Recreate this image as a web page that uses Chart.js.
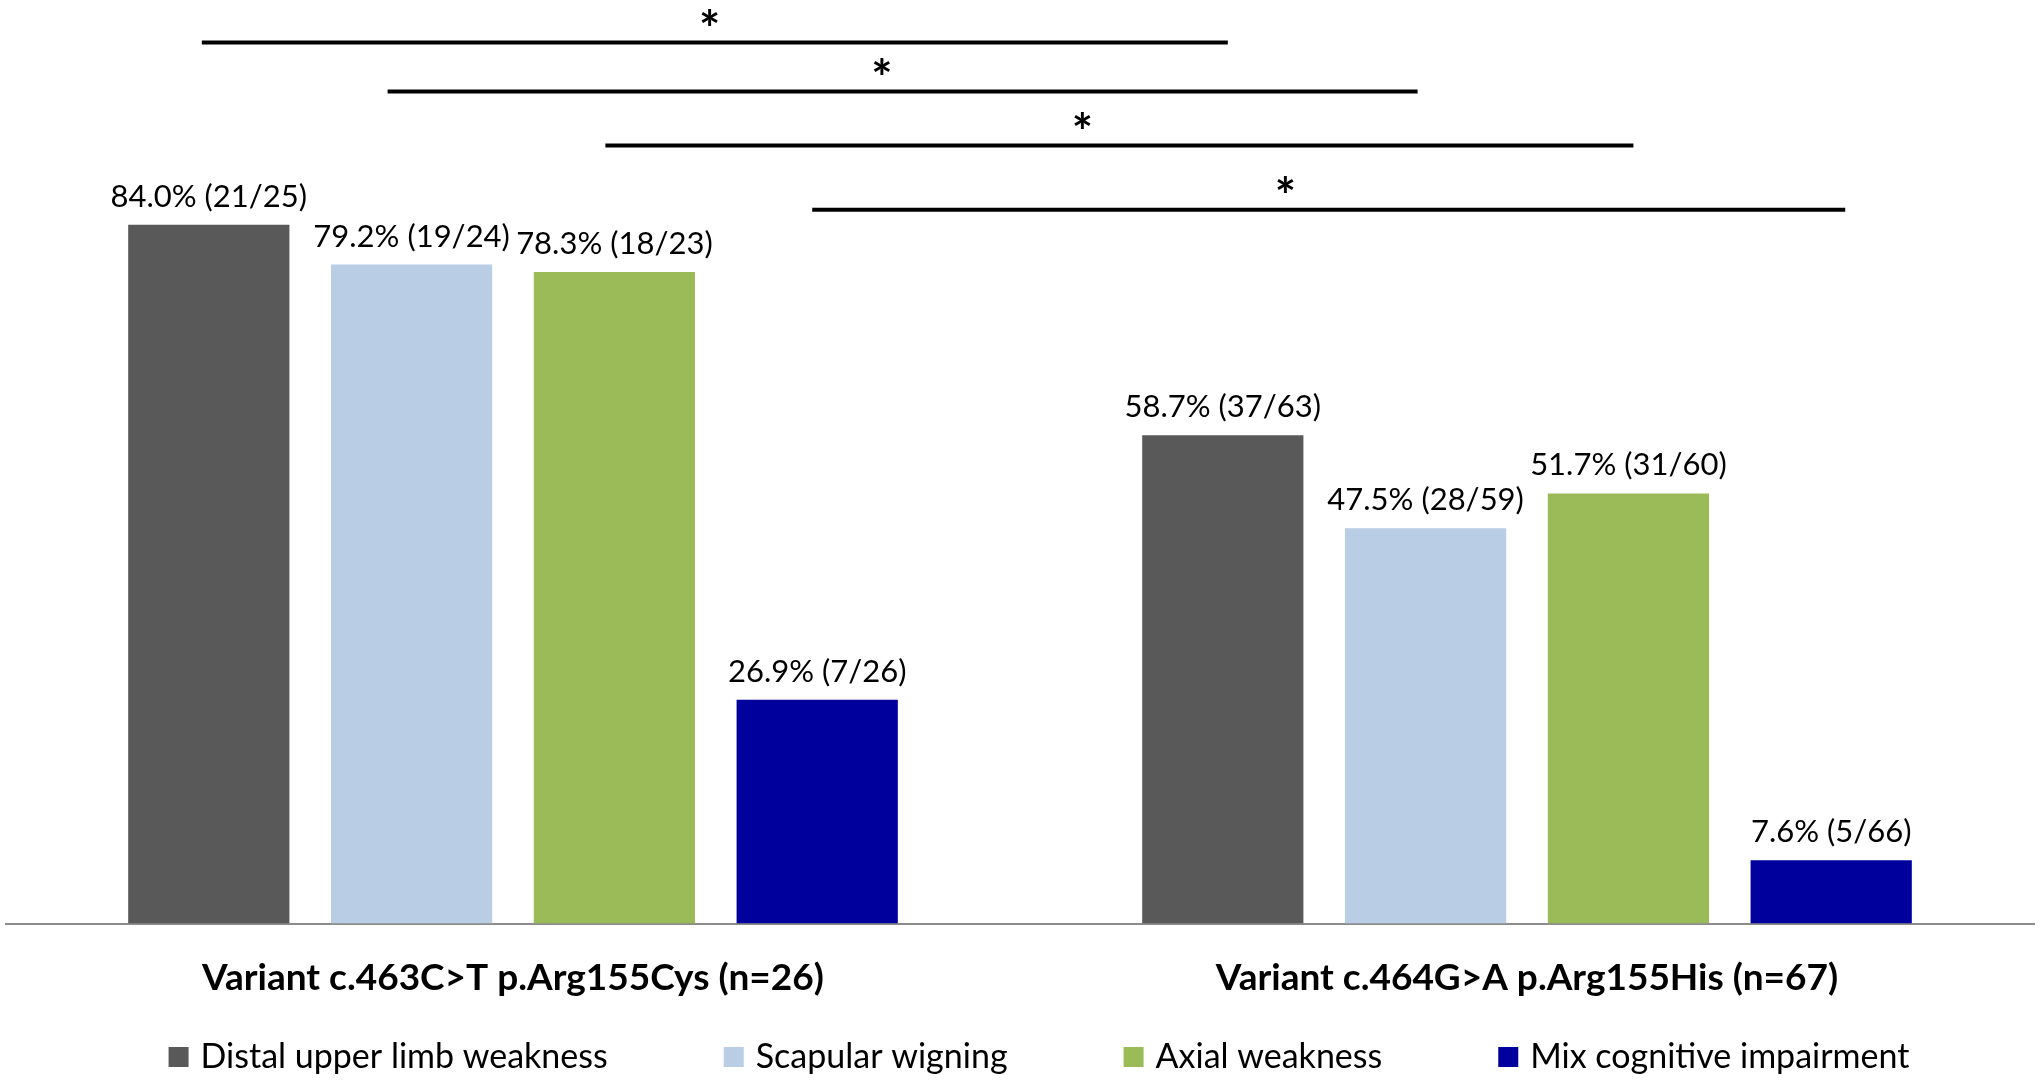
<!DOCTYPE html>
<html>
<head>
<meta charset="utf-8">
<script src="https://cdn.jsdelivr.net/npm/chart.js@4.4.0/dist/chart.umd.min.js"></script>
<style>
    body { margin: 0; background: #fff; }
    #wrap { width: 2040px; height: 1082px; }
</style>
</head>
<body>
<div id="wrap"><canvas id="grafico"></canvas></div>
<script>
var categorias = ["Variant c.463C>T p.Arg155Cys (n=26)", "Variant c.464G>A p.Arg155His (n=67)"];
var nomesSeries = ["Distal upper limb weakness", "Scapular wigning", "Axial weakness", "Mix cognitive impairment"];

var distal = [84.0, 58.7];
var escapular = [79.2, 47.5];
var axial = [78.3, 51.7];
var cognitivo = [26.9, 7.6];

var fracDistal = ["21/25", "37/63"];
var fracEscapular = ["19/24", "28/59"];
var fracAxial = ["18/23", "31/60"];
var fracCognitivo = ["7/26", "5/66"];

// significance brackets: one per series, joining the two variants
var nivelChaves = [105.9, 100.0, 93.5, 85.8];

var cores = ["#595959", "#B9CDE5", "#9BBB59", "#00009C"];
var valores = [distal, escapular, axial, cognitivo];
var fracoes = [fracDistal, fracEscapular, fracAxial, fracCognitivo];

const rotulosBarras = {
    id: "rotulosBarras",
    afterDatasetsDraw(chart) {
        const ctx = chart.ctx;
        ctx.save();
        ctx.font = "31px Lato";
        ctx.fillStyle = "#000";
        ctx.textAlign = "center";
        ctx.textBaseline = "alphabetic";
        chart.data.datasets.forEach((ds, i) => {
            chart.getDatasetMeta(i).data.forEach((bar, j) => {
                const txt = ds.data[j].toFixed(1) + "% (" + fracoes[i][j] + ")";
                ctx.fillText(txt, bar.x, bar.y - 18);
            });
        });
        ctx.restore();
    }
};

const chaves = {
    id: "chaves",
    afterDraw(chart) {
        const ctx = chart.ctx;
        const y = chart.scales.y;
        // small nudges so the lines sit like in the original figure
        const ajusteIni = [-7, -24, -9, -5];
        const ajusteFim = [5, -8, 5, 14];
        const posAsterisco = [0.495, 0.48, 0.464, 0.458];
        ctx.save();
        ctx.strokeStyle = "#000";
        ctx.lineWidth = 4;
        ctx.fillStyle = "#000";
        ctx.font = "bold 50px Lato";
        ctx.textAlign = "center";
        ctx.textBaseline = "middle";
        nivelChaves.forEach((nivel, i) => {
            const barras = chart.getDatasetMeta(i).data;
            const x1 = barras[0].x + ajusteIni[i];
            const x2 = barras[1].x + ajusteFim[i];
            const py = y.getPixelForValue(nivel);
            ctx.beginPath();
            ctx.moveTo(x1, py);
            ctx.lineTo(x2, py);
            ctx.stroke();
            ctx.fillText("*", x1 + (x2 - x1) * posAsterisco[i], py - 12);
        });
        ctx.restore();
    }
};

const legendaRodape = {
    id: "legendaRodape",
    afterDraw(chart) {
        const ctx = chart.ctx;
        const caixa = 20;
        const gapTexto = 12;
        const gapItem = 116;
        ctx.save();
        ctx.font = "34px Lato";
        ctx.textBaseline = "middle";
        ctx.textAlign = "left";
        const larguras = nomesSeries.map(n => ctx.measureText(n).width);
        let total = 0;
        larguras.forEach((w, i) => { total += caixa + gapTexto + w + (i > 0 ? gapItem : 0); });
        let x = chart.width / 2 + 19 - total / 2;
        const yMeio = 1057;
        nomesSeries.forEach((nome, i) => {
            ctx.fillStyle = cores[i];
            ctx.fillRect(x, yMeio - caixa / 2, caixa, caixa);
            ctx.fillStyle = "#000";
            ctx.fillText(nome, x + caixa + gapTexto, yMeio);
            x += caixa + gapTexto + larguras[i] + gapItem;
        });
        ctx.restore();
    }
};

const datasets = nomesSeries.map((nome, i) => ({
    label: nome,
    data: valores[i],
    backgroundColor: cores[i],
    borderWidth: 0,
    categoryPercentage: 0.8,
    barPercentage: 0.795
}));

new Chart(document.getElementById("grafico"), {
    type: "bar",
    data: {
        labels: categorias,
        datasets: datasets
    },
    options: {
        responsive: true,
        maintainAspectRatio: false,
        animation: false,
        layout: {
            padding: { left: 6, right: 6, top: 0, bottom: 50 }
        },
        plugins: {
            legend: { display: false },
            tooltip: { enabled: false }
        },
        scales: {
            x: {
                grid: { display: false, drawTicks: false },
                border: { display: true, color: "#8c8c8c", width: 2 },
                ticks: {
                    color: "#000",
                    padding: 32,
                    font: { family: "Lato", size: 37, weight: "bold" }
                }
            },
            y: {
                display: false,
                min: 0,
                max: 111
            }
        }
    },
    plugins: [rotulosBarras, chaves, legendaRodape]
});
</script>
</body>
</html>
